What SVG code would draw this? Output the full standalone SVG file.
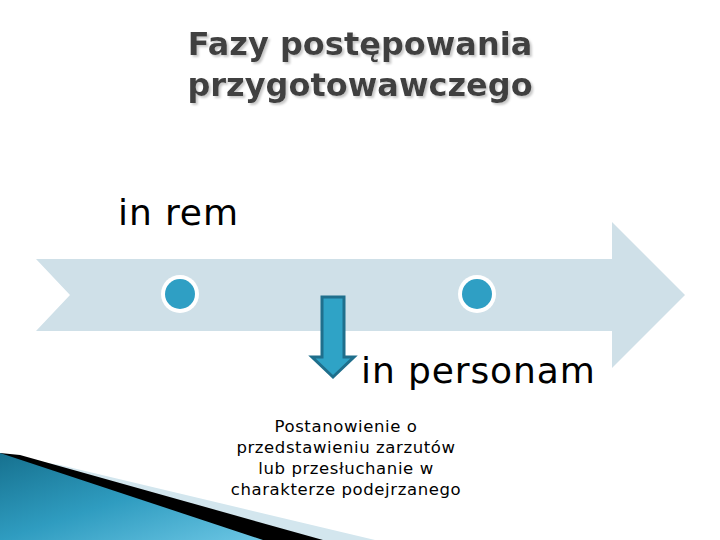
<svg xmlns="http://www.w3.org/2000/svg" width="720" height="540" viewBox="0 0 720 540">
  <defs>
    <linearGradient id="swoosh" x1="0" y1="0" x2="1" y2="1">
      <stop offset="0" stop-color="#16718f"/>
      <stop offset="0.5" stop-color="#2f9cc0"/>
      <stop offset="1" stop-color="#6cc6e4"/>
    </linearGradient>
    <filter id="shadow" x="-5%" y="-20%" width="110%" height="140%">
      <feDropShadow dx="2" dy="2" stdDeviation="0.8" flood-color="#c8c8c8" flood-opacity="1"/>
    </filter>
  </defs>
  <style>
    .title { font-family: "DejaVu Sans", Verdana, sans-serif; font-weight: bold; font-size: 32px; fill: #404040; }
    .big { font-family: "DejaVu Sans", Verdana, sans-serif; font-size: 36px; fill: #000; letter-spacing: 0.9px; }
    .small { font-family: "DejaVu Sans", Verdana, sans-serif; font-size: 16.5px; fill: #000; letter-spacing: 0.6px; }
    .dot-ring { fill: #ffffff; }
    .dot { fill: #2f9fc4; }
  </style>
  <rect width="720" height="540" fill="#ffffff"/>

  <!-- bottom-left decoration -->
  <g id="decoration">
    <polygon points="60,465 375,540 0,540 0,455" fill="#d3e6ee"/>
    <polygon points="20,455 323,540 0,540 0,453" fill="#000000"/>
    <polygon points="0,453 263,540 0,540" fill="url(#swoosh)"/>
  </g>

  <!-- title -->
  <g id="title" filter="url(#shadow)">
    <text class="title" x="360" y="55" text-anchor="middle">Fazy postępowania</text>
    <text class="title" x="360" y="96" text-anchor="middle">przygotowawczego</text>
  </g>

  <!-- timeline arrow -->
  <g id="timeline">
    <polygon points="36,259 612,259 612,222 685,295 612,368 612,331 36,331 70,295" fill="#cfe0e8"/>
  </g>

  <g id="milestone-1">
    <circle class="dot-ring" cx="180" cy="294" r="19"/>
    <circle class="dot" cx="180" cy="294" r="15"/>
  </g>
  <g id="milestone-2">
    <circle class="dot-ring" cx="477" cy="294" r="19"/>
    <circle class="dot" cx="477" cy="294" r="15"/>
  </g>

  <g id="in-rem">
    <text class="big" x="118" y="225">in rem</text>
  </g>

  <g id="connectors">
    <polygon points="322,297 344,297 344,357 354,357 333,377 312,357 322,357" fill="#2fa3c6" stroke="#1f6f8c" stroke-width="3" stroke-linejoin="miter"/>
  </g>

  <g id="in-personam">
    <text class="big" x="361" y="383">in personam</text>
  </g>

  <g id="description">
    <text class="small" x="346" y="432" text-anchor="middle">Postanowienie o</text>
    <text class="small" x="346" y="453" text-anchor="middle">przedstawieniu zarzutów</text>
    <text class="small" x="346" y="474" text-anchor="middle">lub przesłuchanie w</text>
    <text class="small" x="346" y="495" text-anchor="middle">charakterze podejrzanego</text>
  </g>
</svg>
